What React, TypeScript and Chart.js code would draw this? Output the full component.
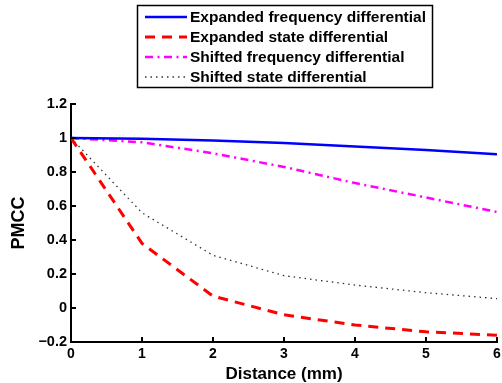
import React, { useEffect, useRef } from "react";
import { Chart, registerables } from "chart.js";

Chart.register(...registerables);

const distances = [0, 1, 2, 3, 4, 5, 6];
const expandedFrequency = [1.0, 0.995, 0.985, 0.97, 0.95, 0.93, 0.905];
const expandedState = [1.0, 0.38, 0.07, -0.04, -0.1, -0.14, -0.16];
const shiftedFrequency = [1.0, 0.975, 0.91, 0.83, 0.735, 0.65, 0.565];
const shiftedState = [1.0, 0.56, 0.31, 0.19, 0.135, 0.09, 0.055];

const seriesNames = [
  "Expanded frequency differential",
  "Expanded state differential",
  "Shifted frequency differential",
  "Shifted state differential",
];

const xTitle = "Distance (mm)";
const yTitle = "PMCC";

const FONT = "'Liberation Sans', Arial, Helvetica, sans-serif";

const toPoints = (ys: number[]) => distances.map((x, i) => ({ x, y: ys[i] }));

const axisTicksPlugin = {
  id: "inwardTicks",
  afterDraw(chart: any) {
    const ctx = chart.ctx;
    const xs = chart.scales.x;
    const ys = chart.scales.y;
    const area = chart.chartArea;
    ctx.save();
    ctx.strokeStyle = "#000";
    ctx.lineWidth = 2;
    const len = 5;
    xs.ticks.forEach((t: any) => {
      const px = xs.getPixelForValue(t.value);
      ctx.beginPath();
      ctx.moveTo(px, area.bottom);
      ctx.lineTo(px, area.bottom - len);
      ctx.stroke();
    });
    ys.ticks.forEach((t: any) => {
      const py = ys.getPixelForValue(t.value);
      ctx.beginPath();
      ctx.moveTo(area.left, py);
      ctx.lineTo(area.left + len, py);
      ctx.stroke();
    });
    ctx.restore();
  },
};

const legendPlugin = {
  id: "boxLegend",
  afterDraw(chart: any) {
    const ctx = chart.ctx;
    ctx.save();
    const bx = 137.5, by = 5.5, bw = 295, bh = 82;
    ctx.fillStyle = "#fff";
    ctx.fillRect(bx, by, bw, bh);
    ctx.strokeStyle = "#000";
    ctx.lineWidth = 1.5;
    ctx.strokeRect(bx, by, bw, bh);
    const rows = [17, 37, 57, 77];
    chart.data.datasets.forEach((ds: any, i: number) => {
      const y = rows[i];
      ctx.beginPath();
      ctx.setLineDash(ds.borderDash || []);
      ctx.strokeStyle = ds.borderColor;
      ctx.lineWidth = ds.borderWidth;
      ctx.moveTo(145, y);
      ctx.lineTo(187, y);
      ctx.stroke();
      ctx.setLineDash([]);
      ctx.fillStyle = "#000";
      ctx.font = `bold 15.5px ${FONT}`;
      ctx.textAlign = "left";
      ctx.textBaseline = "middle";
      ctx.fillText(ds.label, 190, y + 1);
    });
    ctx.restore();
  },
};

export default function App() {
  const ref = useRef<HTMLCanvasElement | null>(null);
  useEffect(() => {
    if (!ref.current) return;
    const chart = new Chart(ref.current, {
      type: "line",
      data: {
        datasets: [
          {
            label: seriesNames[0],
            data: toPoints(expandedFrequency),
            borderColor: "#0000ff",
            borderWidth: 2.5,
            pointRadius: 0,
            tension: 0,
          },
          {
            label: seriesNames[1],
            data: toPoints(expandedState),
            borderColor: "#ff0000",
            borderWidth: 3,
            borderDash: [10, 7],
            pointRadius: 0,
            tension: 0,
          },
          {
            label: seriesNames[2],
            data: toPoints(shiftedFrequency),
            borderColor: "#ff00ff",
            borderWidth: 2.5,
            borderDash: [8, 4.5, 2, 4.5],
            pointRadius: 0,
            tension: 0,
          },
          {
            label: seriesNames[3],
            data: toPoints(shiftedState),
            borderColor: "#333333",
            borderWidth: 1.3,
            borderDash: [1.5, 4],
            pointRadius: 0,
            tension: 0,
          },
        ],
      },
      options: {
        responsive: false,
        animation: false,
        layout: { padding: { top: 104, right: 5, left: 0, bottom: 0 } },
        plugins: {
          legend: { display: false },
          tooltip: { enabled: false },
        },
        scales: {
          x: {
            type: "linear",
            min: 0,
            max: 6,
            ticks: {
              stepSize: 1,
              color: "#000",
              font: { family: FONT, size: 14, weight: "bold" },
              padding: 4,
              maxRotation: 0,
            },
            grid: { drawOnChartArea: false, drawTicks: false },
            border: { display: true, color: "#000", width: 2 },
            title: {
              display: true,
              text: xTitle,
              color: "#000",
              font: { family: FONT, size: 17, weight: "bold", lineHeight: 1 },
              padding: { top: 0, bottom: 0 },
            },
            afterFit: (s: any) => {
              s.height = 41;
              s.paddingRight = 0;
              s.paddingLeft = 0;
            },
          },
          y: {
            type: "linear",
            min: -0.2,
            max: 1.2,
            ticks: {
              stepSize: 0.2,
              color: "#000",
              font: { family: FONT, size: 14.5, weight: "bold" },
              padding: 4,
              callback: (v: any) => {
                const r = Math.round(Number(v) * 10) / 10;
                return String(r).replace("-", "\u2212");
              },
            },
            grid: { drawOnChartArea: false, drawTicks: false },
            border: { display: true, color: "#000", width: 2 },
            title: {
              display: true,
              text: yTitle,
              color: "#000",
              font: { family: FONT, size: 18, weight: "bold", lineHeight: 1 },
              padding: { top: 10, bottom: 0 },
            },
            afterFit: (s: any) => {
              s.width = 71;
              s.paddingTop = 0;
              s.paddingBottom = 0;
            },
          },
        },
      },
      plugins: [axisTicksPlugin, legendPlugin],
    } as any);
    return () => chart.destroy();
  }, []);
  return (
    <div style={{ position: "absolute", left: 0, top: 0, width: 502, height: 383, background: "#fff" }}>
      <canvas ref={ref} width={502} height={383} />
    </div>
  );
}
